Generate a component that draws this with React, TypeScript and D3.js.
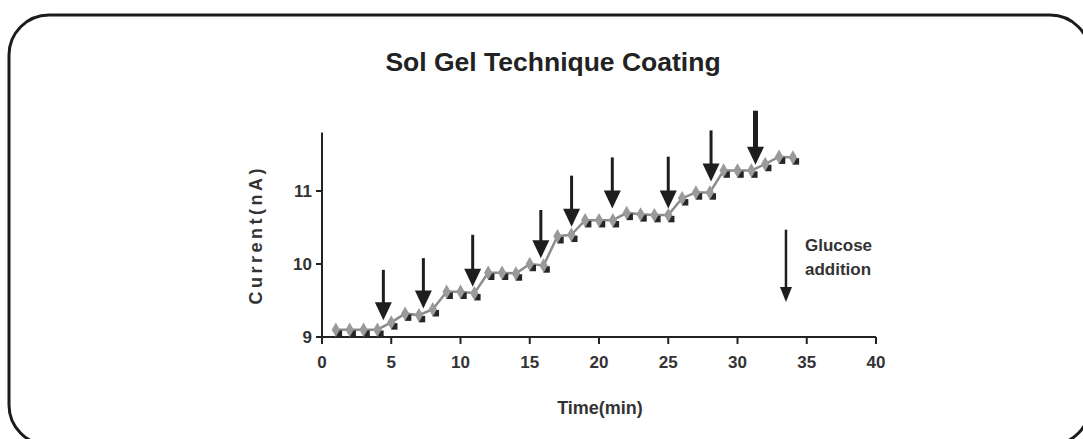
import React from 'react';
import * as d3 from 'd3';

// minutes and current readings (nA)
const times = [1, 2, 3, 4, 5, 6, 7, 8, 9, 10, 11, 12, 13, 14, 15, 16, 17, 18, 19, 20, 21, 22, 23, 24, 25, 26, 27, 28, 29, 30, 31, 32, 33, 34];
const current = [9.1, 9.1, 9.1, 9.1, 9.2, 9.32, 9.3, 9.38, 9.62, 9.62, 9.6, 9.88, 9.88, 9.87, 10.0, 9.98, 10.38, 10.4, 10.6, 10.6, 10.6, 10.7, 10.68, 10.67, 10.67, 10.9, 10.98, 10.98, 11.28, 11.28, 11.28, 11.37, 11.47, 11.46];

// glucose addition arrows: time, tip value, top value
const additionTimes = [4.43, 7.32, 10.88, 15.8, 18.02, 20.96, 25.0, 28.09, 31.3];
const additionTips = [9.23, 9.39, 9.69, 10.08, 10.51, 10.76, 10.76, 11.13, 11.36];
const additionTops = [9.92, 10.08, 10.4, 10.74, 11.21, 11.46, 11.47, 11.83, 12.1];

const xTicks = [0, 5, 10, 15, 20, 25, 30, 35, 40];
const yTicks = [9, 10, 11];

const title = 'Sol Gel Technique Coating';
const xLabel = 'Time(min)';
const yLabel = 'Current(nA)';
const legendLines = ['Glucose', 'addition'];

const W = 1083;
const H = 439;
const font = '"Liberation Sans", Arial, sans-serif';

const App: React.FC = () => {
  const x = d3.scaleLinear().domain([0, 40]).range([322, 876]);
  const y = d3.scaleLinear().domain([9, 11.8]).range([337, 132.6]);

  const pts = times.map((t, i) => ({ t, v: current[i] }));
  const line = d3
    .line<{ t: number; v: number }>()
    .x((d) => x(d.t))
    .y((d) => y(d.v));

  const diamond = d3.symbol().type(d3.symbolDiamond).size(60)();
  const square = d3.symbol().type(d3.symbolSquare).size(42)();

  const arrow = (xp: number, y0: number, y1: number, shaft: number, headW: number, headH: number, key: string) => (
    <g key={key}>
      <line x1={xp} x2={xp} y1={y0} y2={y1 - headH + 1} stroke="#1e1e1e" strokeWidth={shaft} />
      <path d={`M${xp - headW / 2},${y1 - headH} L${xp + headW / 2},${y1 - headH} L${xp},${y1} Z`} fill="#1e1e1e" />
    </g>
  );

  // legend arrow position in data units
  const legendT = 33.5;
  const legendTop = 10.47;
  const legendTip = 9.48;

  return (
    <svg width={W} height={H} style={{ position: 'absolute', left: 0, top: 0, display: 'block' }}>
      <rect x={0} y={0} width={W} height={H} fill="#fff" />
      {/* rounded frame */}
      <rect x={9} y={15} width={1081} height={430} rx={40} ry={40} fill="none" stroke="#1c1c1c" strokeWidth={3} />

      <text x={553} y={71} textAnchor="middle" fontFamily={font} fontWeight="bold" fontSize={26.5} fill="#222">
        {title}
      </text>

      {/* axes */}
      <line x1={x(0)} x2={x(0)} y1={y(11.8)} y2={y(9) + 7} stroke="#222" strokeWidth={2} />
      <line x1={x(0)} x2={x(40)} y1={y(9)} y2={y(9)} stroke="#222" strokeWidth={2} />
      {xTicks.map((t) => (
        <g key={`xt${t}`}>
          <line x1={x(t)} x2={x(t)} y1={y(9)} y2={y(9) + 7} stroke="#222" strokeWidth={2} />
          <text x={x(t)} y={y(9) + 31} textAnchor="middle" fontFamily={font} fontWeight="bold" fontSize={17} fill="#333">
            {t}
          </text>
        </g>
      ))}
      {yTicks.map((v) => (
        <g key={`yt${v}`}>
          <line x1={x(0) - 6} x2={x(0)} y1={y(v)} y2={y(v)} stroke="#222" strokeWidth={2} />
          <text x={x(0) - 10} y={y(v) + 6} textAnchor="end" fontFamily={font} fontWeight="bold" fontSize={17} fill="#333">
            {v}
          </text>
        </g>
      ))}

      <text
        transform={`translate(262,${(y(9) + y(11.8)) / 2}) rotate(-90)`}
        textAnchor="middle"
        fontFamily={font}
        fontWeight="bold"
        fontSize={18}
        letterSpacing={3.5}
        fill="#333"
      >
        {yLabel}
      </text>
      <text x={600} y={414} textAnchor="middle" fontFamily={font} fontWeight="bold" fontSize={18} fill="#333">
        {xLabel}
      </text>

      {/* series */}
      <path d={line(pts) || ''} fill="none" stroke="#8c8c8c" strokeWidth={2.5} />
      {pts.map((d, i) => (
        <path key={`s${i}`} d={square} transform={`translate(${x(d.t) + 3},${y(d.v) + 4})`} fill="#262626" />
      ))}
      {pts.map((d, i) => (
        <path key={`d${i}`} d={diamond} transform={`translate(${x(d.t)},${y(d.v)})`} fill="#9a9a9a" />
      ))}

      {/* glucose addition arrows */}
      {additionTimes.map((t, i) =>
        arrow(x(t), y(additionTops[i]), y(additionTips[i]), i === additionTimes.length - 1 ? 5 : 3, 17, 18, `a${i}`)
      )}

      {/* legend */}
      {arrow(x(legendT), y(legendTop), y(legendTip), 2.5, 12, 15, 'legend')}
      {legendLines.map((s, i) => (
        <text key={s} x={805} y={251 + i * 24} fontFamily={font} fontWeight="bold" fontSize={17} fill="#333">
          {s}
        </text>
      ))}
    </svg>
  );
};

export default App;
